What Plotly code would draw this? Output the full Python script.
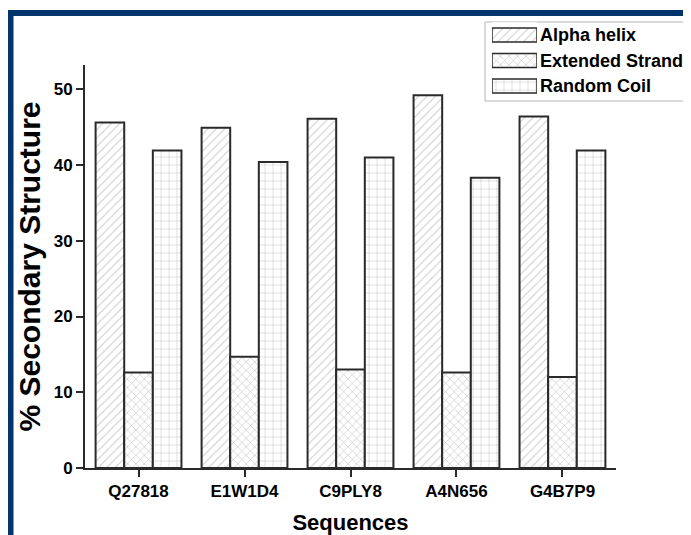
import plotly.graph_objects as go

categories = ["Q27818", "E1W1D4", "C9PLY8", "A4N656", "G4B7P9"]
alpha_helix = [45.6, 44.9, 46.1, 49.2, 46.4]
extended_strand = [12.6, 14.7, 13.0, 12.6, 12.0]
random_coil = [41.9, 40.4, 41.0, 38.3, 41.9]
y_ticks = [0, 10, 20, 30, 40, 50]
series_names = ["Alpha helix", "Extended Strand", "Random Coil"]
series_patterns = ["/", "x", "+"]

OFF = 8  # page body margin: screen pixel = figure pixel + OFF
W, H = 691 - OFF, 535 - OFF
# plot area in screen pixels
SX0, SX1, SY0, SY1 = 85, 616, 65, 468
L, R, T, B = SX0 - OFF, W - (SX1 - OFF), 0, H - (SY1 - OFF)
pw, ph = W - L - R, H - T - B


def px2x(p):
    return (p - OFF - L) / pw


def py2y(p):
    return (H - B - (p - OFF)) / ph


def pattern(shape):
    if shape == "+":
        return dict(shape=shape, fgcolor="#8a8a8a", bgcolor="white", size=8, solidity=0.13)
    if shape == "x":
        return dict(shape=shape, fgcolor="#8a8a8a", bgcolor="white", size=6, solidity=0.2)
    return dict(shape=shape, fgcolor="#9a9a9a", bgcolor="white", size=6, solidity=0.18)


fig = go.Figure()
for name, vals, shape in zip(series_names, [alpha_helix, extended_strand, random_coil], series_patterns):
    fig.add_trace(go.Bar(
        x=categories, y=vals, name=name, showlegend=False,
        marker=dict(color="white", line=dict(color="#2a2a2a", width=2), pattern=pattern(shape)),
    ))

# custom legend: patterned swatches drawn on a small overlay axis
for i, (name, shape) in enumerate(zip(series_names, series_patterns)):
    fig.add_trace(go.Bar(
        x=[1], y=[i], orientation="h", width=0.55, name=name, showlegend=False,
        xaxis="x2", yaxis="y2", hoverinfo="skip",
        marker=dict(color="white", line=dict(color="#2a2a2a", width=1.5), pattern=pattern(shape)),
    ))
    fig.add_annotation(x=px2x(538), y=i, xref="paper", yref="y2", text=name,
                       showarrow=False, xanchor="left", yanchor="middle",
                       font=dict(size=18, weight="bold", color="black"))

navy = "#00356b"
row_top, row_bottom = 22.25, 98.75
fig.update_layout(
    width=W, height=H,
    margin=dict(l=L, r=R, t=T, b=B),
    paper_bgcolor="white", plot_bgcolor="white",
    barmode="group", bargap=0.19, bargroupgap=0,
    font=dict(family="Liberation Sans, Arial", color="black", size=12),
    showlegend=False,
    xaxis=dict(
        range=[-0.505, 4.505], showline=True, linecolor="#2a2a2a", linewidth=2,
        ticks="outside", ticklen=7, tickwidth=2, tickcolor="#2a2a2a",
        showgrid=False, zeroline=False,
        tickfont=dict(size=17, weight="bold"),
        title=dict(text="Sequences", font=dict(size=22, weight="bold"), standoff=14),
    ),
    yaxis=dict(
        domain=[0, py2y(SY0)],
        range=[0, 53.2], showline=True, linecolor="#2a2a2a", linewidth=2,
        tickvals=y_ticks, ticks="outside", ticklen=7, tickwidth=2, tickcolor="#2a2a2a",
        showgrid=False, zeroline=False,
        tickfont=dict(size=17, weight="bold"),
        title=dict(text="% Secondary Structure", font=dict(size=30, weight="bold"), standoff=4),
    ),
    xaxis2=dict(domain=[px2x(492), px2x(537)], range=[0, 1], visible=False,
                anchor="y2", fixedrange=True),
    yaxis2=dict(domain=[py2y(row_bottom), py2y(row_top)], range=[2.5, -0.5], visible=False,
                anchor="x2", fixedrange=True),
    shapes=[
        dict(type="rect", xref="paper", yref="paper",
             x0=px2x(485), x1=px2x(720), y0=py2y(101), y1=py2y(22),
             fillcolor="white", line=dict(color="#b4b4b4", width=1), layer="below"),
        dict(type="rect", xref="paper", yref="paper",
             x0=px2x(7), x1=px2x(720), y0=py2y(16), y1=py2y(10),
             fillcolor=navy, line=dict(width=0), layer="above"),
        dict(type="rect", xref="paper", yref="paper",
             x0=px2x(7), x1=px2x(13.5), y0=py2y(560), y1=py2y(10),
             fillcolor=navy, line=dict(width=0), layer="above"),
    ],
)

fig.write_html("out.html")
